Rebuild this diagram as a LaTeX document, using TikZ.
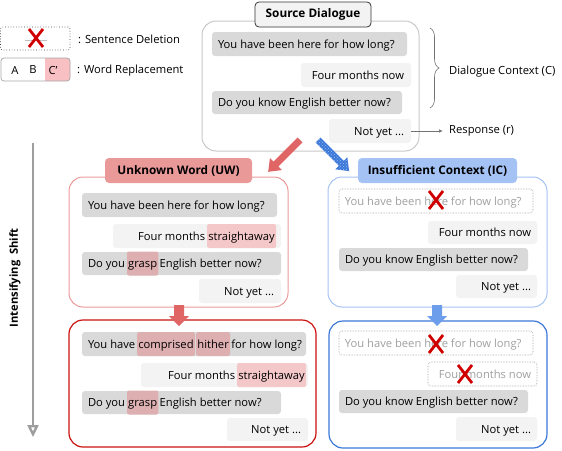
\documentclass[tikz,border=0pt]{standalone}
\usepackage{fontspec}
\setmainfont{Open Sans}
\usetikzlibrary{arrows.meta,decorations.pathreplacing,patterns}
\definecolor{bubD}{HTML}{D9D9D9}
\definecolor{bubL}{HTML}{F3F3F3}
\definecolor{outG}{HTML}{C8C8C8}
\definecolor{uwF}{HTML}{EA9999}
\definecolor{uwR}{HTML}{CC1111}
\definecolor{icF}{HTML}{A4C2F4}
\definecolor{icB}{HTML}{3C78D8}
\definecolor{hlL}{HTML}{F4C7C9}
\definecolor{hlD}{HTML}{DDAFB1}
\definecolor{xred}{HTML}{D00000}
\definecolor{arrR}{HTML}{E06666}
\definecolor{arrB}{HTML}{3C78D8}
\definecolor{arrBl}{HTML}{9DBDF5}
\definecolor{arrB2}{HTML}{6D9EEB}
\definecolor{delT}{HTML}{A0A0A0}
\definecolor{legP}{HTML}{F9C0C4}
\newcommand\mkbub[7]{\node[bubble,#6,minimum width={#4-#2},minimum height={#5-#3}] (#1) at ({(#2+#4)/2},{(#3+#5)/2}) {#7};}
\newcommand\fsz{\fontsize{11.2}{13}\selectfont}
\tikzset{
  bubble/.style={rounded corners=3pt, inner sep=0pt, draw=none},
  outerbox/.style={rounded corners=14pt, line width=1pt, fill=none},
  titlebox/.style={rounded corners=4pt, font=\fontsize{11.8}{13}\selectfont\bfseries},
  tx/.style={inner xsep=0pt, inner ysep=0pt, font=\fsz},
  txd/.style={tx, text=delT},
  hl/.style={tx, inner xsep=1.2pt, text height=16pt, text depth=8pt, rounded corners=2pt},
  delbox/.style={draw=delT, densely dotted, line width=0.6pt, fill=white},
  lab/.style={inner sep=0pt, font=\fsz, anchor=west},
  xmk/.pic={\draw[xred, line width=2.8pt] (-7,-9)--(7,9) (-7,9)--(7,-9);},
  fatarr/.pic={\path[pic actions] (0,-3.5) -- ({#1-11},-3.5) -- ({#1-11},-8.5) -- (#1,0) -- ({#1-11},8.5) -- ({#1-11},3.5) -- (0,3.5) -- cycle;},
  fatdown/.pic={\path[pic actions] (0,-5) -- ({#1-10},-5) -- ({#1-10},-10) -- (#1,0) -- ({#1-10},10) -- ({#1-10},5) -- (0,5) -- cycle;}
}
\begin{document}
\begin{tikzpicture}[x=1pt,y=-1pt]
\useasboundingbox (0,0) rectangle (562,450);
% ---------------- legend
\mkbub{lg1}{0.5}{27}{70}{50}{rounded corners=2pt,draw=black!75,dotted,line width=0.7pt}{}
\draw[black!25, line width=0.5pt] (25,40) -- (47,40);
\pic at (36,38) {xmk};
\node[lab] (lt1) at (78,39) {: Sentence Deletion};
\fill[legP, rounded corners=3pt] (45,58) rectangle (70,81);
\fill[legP] (45,58) rectangle (55,81);
\mkbub{lg2}{1}{58}{70}{81}{rounded corners=3pt,draw=black!35,line width=0.7pt}{}
\node[tx] at (15,70) {A};
\node[tx] at (33,70) {B};
\node[tx] at (53,70) {C'};
\node[lab] (lt2) at (77,71) {: Word Replacement};
% ---------------- source dialogue
\mkbub{src}{202}{21}{419}{151}{outerbox,draw=outG}{}
\mkbub{srct}{255}{2}{371}{27}{titlebox,fill=bubL,draw=black!80,line width=0.8pt}{Source Dialogue}
\mkbub{s1}{212}{32}{407}{56}{fill=bubD}{}
\node[tx,anchor=base west] at ([shift={(6,4)}]s1.west) {You have been here for how long?};
\mkbub{s2}{301}{63}{411}{87}{fill=bubL}{}
\node[tx,anchor=base east] at ([shift={(-7,4)}]s2.east) {Four months now};
\mkbub{s3}{212}{91}{402}{114}{fill=bubD}{}
\node[tx,anchor=base west] at ([shift={(6,4)}]s3.west) {Do you know English better now?};
\mkbub{s4}{329}{119}{411}{143}{fill=bubL}{}
\node[tx,anchor=base east] at ([shift={(-7,4)}]s4.east) {Not yet ...};
\coordinate (brT) at (430,28);
\coordinate (brB) at (430,108);
\draw[black!55, line width=0.6pt, decorate, decoration={brace, amplitude=9pt}] (brT) -- (brB);
\node[lab] (dc) at (449,72) {Dialogue Context (C)};
\coordinate (rsp) at (443,131);
\draw[black!55, line width=0.7pt, -{Latex[length=4pt,width=3.5pt]}] (s4.east) -- (rsp);
\node[lab] (rl) at (449,131) {Response (r)};
% ---------------- diagonal arrows
\coordinate (ra) at (300,140);
\coordinate (ba) at (318,140);
\pic[rotate=-135, fill=arrR] at (ra) {fatarr=45};
\pic[rotate=-45, fill=arrB] at (ba) {fatarr=44};
\pic[rotate=-45, pattern=crosshatch dots, pattern color=arrBl] at (ba) {fatarr=44};
% ---------------- UW
\mkbub{uw}{69}{177}{288}{307}{outerbox,draw=uwF}{}
\mkbub{uwt}{105}{158}{252}{183}{titlebox,fill=uwF}{Unknown Word (UW)}
\mkbub{u1}{82}{193}{277}{217}{fill=bubD}{}
\node[tx,anchor=base west] at ([shift={(6,4)}]u1.west) {You have been here for how long?};
\mkbub{u2}{113}{224}{281}{248}{fill=bubL}{}
\node[hl,fill=hlL,anchor=base east] (u2h) at ([shift={(-5,4)}]u2.east) {straightaway};
\node[tx,anchor=base east] at ([xshift=-1.5pt]u2h.base west) {Four months};
\mkbub{u3}{82}{252}{281}{275}{fill=bubD}{}
\node[tx,anchor=base west] (u3a) at ([shift={(6,4)}]u3.west) {Do you};
\node[hl,fill=hlD,anchor=base west] (u3h) at ([xshift=1.5pt]u3a.base east) {grasp};
\node[tx,anchor=base west] at ([xshift=1pt]u3h.base east) {English better now?};
\mkbub{u4}{199}{279}{281}{303}{fill=bubL}{}
\node[tx,anchor=base east] at ([shift={(-7,4)}]u4.east) {Not yet ...};
% ---------------- UW intensified
\coordinate (rd) at (179,305);
\mkbub{uw2}{69}{320}{316}{447}{outerbox,draw=uwR,line width=1.2pt}{}
\pic[rotate=-90, fill=arrR] at (rd) {fatdown=21};
\mkbub{v1}{82}{332}{306}{356}{fill=bubD}{}
\node[tx,anchor=base west] (v1a) at ([shift={(6,4)}]v1.west) {You have};
\node[hl,fill=hlD,anchor=base west] (v1h) at ([xshift=1.5pt]v1a.base east) {comprised};
\node[hl,fill=hlD,anchor=base west] (v1i) at ([xshift=1pt]v1h.base east) {hither};
\node[tx,anchor=base west] at ([xshift=1pt]v1i.base east) {for how long?};
\mkbub{v2}{141}{363}{308}{387}{fill=bubL}{}
\node[hl,fill=hlL,anchor=base east] (v2h) at ([shift={(-2,4)}]v2.east) {straightaway};
\node[tx,anchor=base east] at ([xshift=-1.5pt]v2h.base west) {Four months};
\mkbub{v3}{82}{391}{281}{414}{fill=bubD}{}
\node[tx,anchor=base west] (v3a) at ([shift={(6,4)}]v3.west) {Do you};
\node[hl,fill=hlD,anchor=base west] (v3h) at ([xshift=1.5pt]v3a.base east) {grasp};
\node[tx,anchor=base west] at ([xshift=1pt]v3h.base east) {English better now?};
\mkbub{v4}{227}{418}{308}{441}{fill=bubL}{}
\node[tx,anchor=base east] at ([shift={(-7,4)}]v4.east) {Not yet ...};
% ---------------- IC
\mkbub{ic}{328}{177}{547}{307}{outerbox,draw=icF}{}
\mkbub{ict}{358}{158}{517}{183}{titlebox,fill=icF}{Insufficient Context (IC)}
\mkbub{c1}{339}{189}{533}{213}{delbox}{}
\node[txd,anchor=base west] at ([shift={(6,4)}]c1.west) {You have been here for how long?};
\pic at (436,200) {xmk};
\mkbub{c2}{428}{221}{537}{244}{fill=bubL}{}
\node[tx,anchor=base east] at ([shift={(-6,4)}]c2.east) {Four months now};
\mkbub{c3}{339}{248}{528}{271}{fill=bubD}{}
\node[tx,anchor=base west] at ([shift={(6,4)}]c3.west) {Do you know English better now?};
\mkbub{c4}{456}{275}{537}{298}{fill=bubL}{}
\node[tx,anchor=base east] at ([shift={(-6,4)}]c4.east) {Not yet ...};
% ---------------- IC intensified
\coordinate (bd) at (437,305);
\mkbub{ic2}{329}{321}{547}{448}{outerbox,draw=icB,line width=1.2pt}{}
\pic[rotate=-90, fill=arrB2] at (bd) {fatdown=21};
\mkbub{d1}{339}{331}{533}{355}{delbox}{}
\node[txd,anchor=base west] at ([shift={(6,4)}]d1.west) {You have been here for how long?};
\pic at (436,344) {xmk};
\mkbub{d2}{428}{362}{537}{386}{delbox}{}
\node[txd,anchor=base east] at ([shift={(-6,4)}]d2.east) {Four months now};
\pic at (465,374) {xmk};
\mkbub{d3}{339}{390}{528}{413}{fill=bubD}{}
\node[tx,anchor=base west] at ([shift={(6,4)}]d3.west) {Do you know English better now?};
\mkbub{d4}{456}{417}{537}{441}{fill=bubL}{}
\node[tx,anchor=base east] at ([shift={(-6,4)}]d4.east) {Not yet ...};
% ---------------- intensifying shift
\coordinate (isT) at (33,143);
\coordinate (isB) at (33,437);
\draw[black!38, line width=2.4pt, -{Triangle[open, length=12pt, width=11pt]}] (isT) -- (isB);
\node[rotate=90, inner sep=0pt, font=\fontsize{11.2}{13}\selectfont\bfseries] (ist) at (15,278) {Intensifying\ \ Shift};
\end{tikzpicture}
\end{document}
